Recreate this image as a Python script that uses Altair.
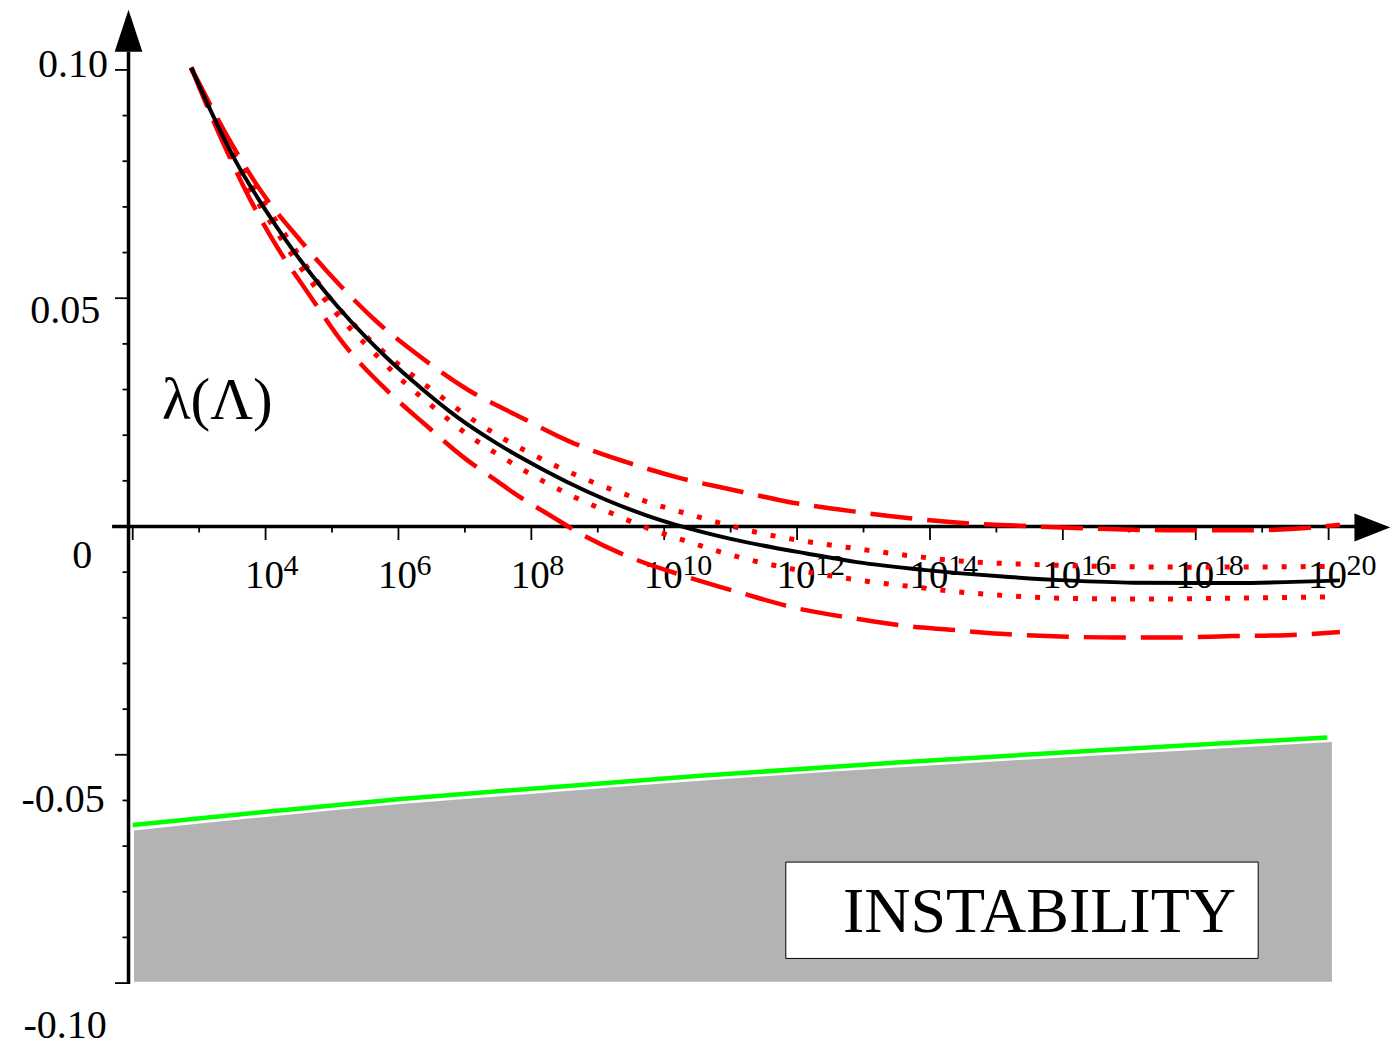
import altair as alt
import pandas as pd

# ---------------- data (x = log10 of Lambda, y = lambda) ----------------
black_x = [2.88, 3.17, 3.54, 4.0, 4.31, 4.71, 5.07, 5.52, 5.8, 6.22, 6.88, 7.48, 7.98, 8.53,
           9.13, 9.74, 10.34, 11.0, 11.64, 12.14, 12.9, 13.9, 15.05, 16.06, 17.06, 18.56, 20.17]
black_y = [0.1005, 0.0912, 0.0803, 0.0693, 0.0626, 0.0548, 0.0484, 0.0413, 0.0373, 0.0318, 0.0240,
           0.0182, 0.0140, 0.0098, 0.0058, 0.0024, -0.0003, -0.0027, -0.0046, -0.0059, -0.0078,
           -0.0095, -0.0109, -0.0118, -0.0123, -0.0124, -0.0118]

dash_hi_x = [2.88, 3.5, 3.92, 4.52, 5.07, 5.67, 6.3, 7.05, 7.83, 8.58, 9.41, 10.24, 11.04, 11.8,
             12.9, 13.7, 14.45, 15.3, 16.3, 17.56, 18.82, 19.6, 20.17]
dash_hi_y = [0.1005, 0.0835, 0.0737, 0.0627, 0.0536, 0.0449, 0.0375, 0.0299, 0.0240, 0.0186, 0.0142,
             0.0106, 0.0080, 0.0056, 0.0032, 0.0018, 0.0008, 0.0002, -0.0004, -0.0008, -0.0008,
             -0.0004, 0.0004]

dash_lo_x = [2.88, 3.3, 3.72, 4.17, 4.67, 5.17, 5.82, 6.38, 7.03, 7.48, 7.74, 8.23, 8.78, 9.53,
             10.34, 11.17, 11.99, 12.85, 13.7, 14.3, 15.06, 15.96, 16.81, 17.66, 18.56, 19.37, 20.17]
dash_lo_y = [0.1005, 0.0860, 0.0730, 0.0613, 0.0505, 0.0401, 0.0299, 0.0226, 0.0146, 0.0100, 0.0073,
             0.0029, -0.0019, -0.0070, -0.0110, -0.0146, -0.0179, -0.0201, -0.0219, -0.0226,
             -0.0235, -0.0241, -0.0243, -0.0243, -0.0240, -0.0238, -0.0231]

dot_hi_x = [2.88, 3.5, 4.2, 5.0, 5.9, 6.47, 7.2, 7.99, 8.81, 9.66, 10.51, 11.37, 12.1, 12.87,
            13.75, 14.4, 15.5, 16.5, 18.0, 19.5, 20.15]
dot_hi_y = [0.1005, 0.0822, 0.0660, 0.0495, 0.0367, 0.0303, 0.0226, 0.0160, 0.0104, 0.0058, 0.0021,
            -0.0012, -0.0032, -0.0048, -0.0065, -0.0075, -0.0083, -0.0087, -0.0089, -0.0088, -0.0087]

dot_lo_x = [2.88, 3.5, 4.2, 5.0, 5.6, 6.1, 6.58, 7.05, 7.55, 8.07, 8.61, 9.16, 9.72, 10.29,
            11.15, 12.0, 12.9, 13.8, 14.35, 15.0, 15.96, 17.06, 18.56, 20.15]
dot_lo_y = [0.1005, 0.0808, 0.0638, 0.0478, 0.0385, 0.0314, 0.0255, 0.0200, 0.0153, 0.0108, 0.0067,
            0.0032, -0.0002, -0.0030, -0.0068, -0.0095, -0.0117, -0.0133, -0.0142, -0.0150,
            -0.0157, -0.0159, -0.0157, -0.0154]

green_x = [2.0, 4.0, 6.03, 8.3, 10.54, 13.5, 16.56, 19.98]
green_y = [-0.0654, -0.0625, -0.0597, -0.0571, -0.0546, -0.0517, -0.0490, -0.0462]

gray_x = [2.02, 4.0, 6.03, 8.3, 10.54, 13.5, 16.56, 20.05]
gray_top = [-0.0666, -0.0636, -0.0608, -0.0582, -0.0557, -0.0528, -0.0501, -0.0472]
gray_bottom = -0.0997

# axis tick values
x_ticks = list(range(2, 21))
x_major = [2, 4, 6, 8, 10, 12, 14, 16, 18, 20]
y_ticks = [-0.10, -0.09, -0.08, -0.07, -0.06, -0.05, -0.04, -0.03, -0.02, -0.01,
           0.01, 0.02, 0.03, 0.04, 0.05, 0.06, 0.07, 0.08, 0.09, 0.10]
y_major = [-0.10, -0.05, 0.05, 0.10]

# tick labels
x_label_vals = [4, 6, 8, 10, 12, 14, 16, 18, 20]
x_label_base = ["10"] * 9
x_label_exp = ["4", "6", "8", "10", "12", "14", "16", "18", "20"]
y_label_text = ["0.10", "0.05", "0", "-0.05", "-0.10"]
y_label_y = [0.0984, 0.0446, -0.0091, -0.0625, -0.1120]
y_label_x = [1.63, 1.51, 1.39, 1.58, 1.61]

# ---------------- geometry ----------------
W, H = 1382, 1038
X_MIN, X_MAX = 0.1231, 20.924
Y_MIN, Y_MAX = -0.11378, 0.11356
PX_PER_X = W / (X_MAX - X_MIN)
PX_PER_Y = H / (Y_MAX - Y_MIN)

AXIS_X = 1.937          # position of the vertical axis (log units)
XS = alt.Scale(domain=[X_MIN, X_MAX], nice=False, zero=False)
YS = alt.Scale(domain=[Y_MIN, Y_MAX], nice=False, zero=False)
FONT = "Liberation Serif"


def ex(f="x"):
    return alt.X(f, type="quantitative", scale=XS, axis=None)


def ey(f="y"):
    return alt.Y(f, type="quantitative", scale=YS, axis=None)


def line(xs, ys, color, width, dash=None):
    df = pd.DataFrame({"x": xs, "y": ys})
    kw = dict(color=color, strokeWidth=width, interpolate="monotone", strokeCap="butt")
    if dash:
        kw["strokeDash"] = dash
    return alt.Chart(df).mark_line(**kw).encode(x=ex(), y=ey(), order=alt.Order("x:Q"))


# gray instability region
gray = alt.Chart(pd.DataFrame({"x": gray_x, "y": gray_top, "y2": [gray_bottom] * len(gray_x)})).mark_area(
    color="#b3b3b3", opacity=1, interpolate="monotone"
).encode(x=ex(), y=ey(), y2="y2:Q")

box = alt.Chart(pd.DataFrame({"x": [11.83], "x2": [18.94], "y": [-0.0735], "y2": [-0.0946]})).mark_rect(
    fill="white", stroke="black", strokeWidth=1
).encode(x=ex(), x2="x2:Q", y=ey(), y2="y2:Q")

box_text = alt.Chart(pd.DataFrame({"x": [12.69], "y": [-0.0888], "t": ["INSTABILITY"]})).mark_text(
    font=FONT, fontSize=64, align="left", baseline="alphabetic", color="black"
).encode(x=ex(), y=ey(), text="t:N")

lam_text = alt.Chart(pd.DataFrame({"x": [2.44], "y": [0.0236], "t": ["λ(Λ)"]})).mark_text(
    font=FONT, fontSize=59, align="left", baseline="alphabetic", color="black"
).encode(x=ex(), y=ey(), text="t:N")

# y labels
ylab = alt.Chart(pd.DataFrame({"x": y_label_x, "y": y_label_y, "t": y_label_text})).mark_text(
    font=FONT, fontSize=40, align="right", baseline="alphabetic", color="black"
).encode(x=ex(), y=ey(), text="t:N")

# x labels (10 with superscript exponent)
XLAB_Y = -0.01347
xlab_df = pd.DataFrame({"x": x_label_vals, "b": x_label_base, "e": x_label_exp,
                        "y": [XLAB_Y] * len(x_label_vals)})
xlab_base = alt.Chart(xlab_df).mark_text(
    font=FONT, fontSize=39, align="center", baseline="alphabetic", color="black", dx=-1
).encode(x=ex(), y=ey(), text="b:N")
xlab_exp = alt.Chart(xlab_df).mark_text(
    font=FONT, fontSize=30, align="left", baseline="alphabetic", color="black", dx=18, dy=-13
).encode(x=ex(), y=ey(), text="e:N")

# ticks
xt_len_major = 13.5 / PX_PER_Y
xt_len_minor = 6.0 / PX_PER_Y
xt_df = pd.DataFrame({
    "x": x_ticks,
    "y": [0.0] * len(x_ticks),
    "y2": [-(xt_len_major if v in x_major else xt_len_minor) for v in x_ticks],
})
xticks = alt.Chart(xt_df).mark_rule(color="black", strokeWidth=1.8).encode(x=ex(), y=ey(), y2="y2:Q")

yt_len_major = 13.5 / PX_PER_X
yt_len_minor = 6.0 / PX_PER_X
yt_df = pd.DataFrame({
    "y": y_ticks,
    "x": [AXIS_X] * len(y_ticks),
    "x2": [AXIS_X - (yt_len_major if any(abs(v - m) < 1e-9 for m in y_major) else yt_len_minor)
           for v in y_ticks],
})
yticks = alt.Chart(yt_df).mark_rule(color="black", strokeWidth=1.8).encode(x=ex(), x2="x2:Q", y=ey())

# axis lines
yaxis = alt.Chart(pd.DataFrame({"x": [AXIS_X], "y": [-0.1002], "y2": [0.104]})).mark_rule(
    color="black", strokeWidth=3.5
).encode(x=ex(), y=ey(), y2="y2:Q")
xaxis = alt.Chart(pd.DataFrame({"x": [1.69], "x2": [20.42], "y": [0.0]})).mark_rule(
    color="black", strokeWidth=3.5
).encode(x=ex(), x2="x2:Q", y=ey())

# arrow heads
up_arrow = alt.Chart(pd.DataFrame({"x": [AXIS_X], "y": [0.10855]})).mark_point(
    shape="M0,-1L0.66,1L-0.66,1Z", filled=True, size=42 * 42, color="black", opacity=1, strokeWidth=0
).encode(x=ex(), y=ey())
right_arrow = alt.Chart(pd.DataFrame({"x": [20.66], "y": [-0.0002]})).mark_point(
    shape="M1,0L-1,0.776L-1,-0.776Z", filled=True, size=36 * 36, color="black", opacity=1,
    strokeWidth=0
).encode(x=ex(), y=ey())

green = line(green_x, green_y, "#00ff00", 4.5)
dhi = line(dash_hi_x, dash_hi_y, "#ff0000", 4.5, [42, 15])
dlo = line(dash_lo_x, dash_lo_y, "#ff0000", 4.5, [42, 15])
ohi = line(dot_hi_x, dot_hi_y, "#ff0000", 5, [5, 14])
olo = line(dot_lo_x, dot_lo_y, "#ff0000", 5, [5, 14])
blk = line(black_x, black_y, "black", 4)

chart = alt.layer(
    gray, box, box_text, lam_text, ylab, xlab_base, xlab_exp,
    xticks, yticks, yaxis, xaxis, up_arrow, right_arrow,
    green, dhi, dlo, ohi, olo, blk,
).properties(
    width=W, height=H,
    autosize=alt.AutoSizeParams(type="none"),
    padding={"left": 0, "right": 0, "top": 0, "bottom": 0},
    background="white",
).configure_view(stroke=None)

chart.save("out.html", embed_options={"renderer": "svg", "actions": False})
